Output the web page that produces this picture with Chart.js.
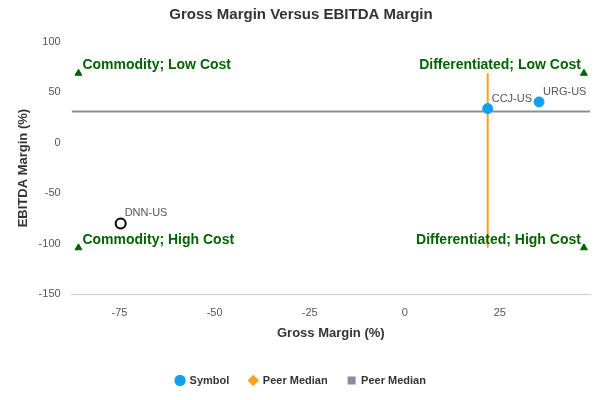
<!DOCTYPE html><html><head><script src="https://cdn.jsdelivr.net/npm/chart.js@4"></script>
<style>body{margin:0}#w{width:600px;height:400px}</style></head><body><div id="w"><canvas id="c"></canvas></div>
<script>
const symbols=["CCJ-US","URG-US"];
const grossMargin=[21.8,35.3];
const ebitdaMargin=[34,40.6];
const subject=["DNN-US"];
const subjectGross=[-74.7];
const subjectEbitda=[-80];
const peerMedianGross=21.8;
const peerMedianEbitda=31;
const quadLabels=["Commodity; Low Cost","Differentiated; Low Cost","Commodity; High Cost","Differentiated; High Cost"];
const quadX=[-85.8,47.1,-85.8,47.1];
const quadY=[69,69,-104,-104];
const xTicks=[-75,-50,-25,0,25];
const yTicks=[-150,-100,-50,0,50,100];
const xMin=-87.6,xMax=48.7;
const F="'Liberation Sans',Arial,sans-serif";
Chart.defaults.font.family=F;
const labelPlugin={id:'lbl',afterDatasetsDraw(ch){
 const c=ch.ctx,xs=ch.scales.x,ys=ch.scales.y;
 c.save();c.font="bold 14px "+F;c.fillStyle="#006400";c.textBaseline="bottom";
 quadLabels.forEach((t,i)=>{const px=xs.getPixelForValue(quadX[i]),py=ys.getPixelForValue(quadY[i]);
  if(i%2==0){c.textAlign="left";c.fillText(t,px+4,py-1);}else{c.textAlign="right";c.fillText(t,px-3,py-1);}});
 c.font="11px "+F;c.fillStyle="#555";c.textAlign="left";
 symbols.forEach((s,i)=>c.fillText(s,xs.getPixelForValue(grossMargin[i])+4,ys.getPixelForValue(ebitdaMargin[i])-4));
 subject.forEach((s,i)=>c.fillText(s,xs.getPixelForValue(subjectGross[i])+4,ys.getPixelForValue(subjectEbitda[i])-5));
 c.restore();}};
new Chart(document.getElementById('c'),{type:'scatter',
 data:{datasets:[
 {label:'Symbol',data:symbols.map((s,i)=>({x:grossMargin[i],y:ebitdaMargin[i]})),backgroundColor:'#0fa0ef',borderColor:'#0fa0ef',pointRadius:5,order:0},
 {label:'Peer Median',type:'line',data:[{x:peerMedianGross,y:69},{x:peerMedianGross,y:-104}],borderColor:'#f7a21b',backgroundColor:'#f7a21b',borderWidth:2,pointRadius:0,pointStyle:'rectRot',order:2},
 {label:'Peer Median',type:'line',data:[{x:xMin,y:peerMedianEbitda},{x:xMax,y:peerMedianEbitda}],borderColor:'#8c8c9a',backgroundColor:'#8c8c9a',borderWidth:2,pointRadius:0,pointStyle:'rect',order:3},
 {label:'subject',data:subject.map((s,i)=>({x:subjectGross[i],y:subjectEbitda[i]})),backgroundColor:'#fff',borderColor:'#000',borderWidth:2,pointRadius:5,order:0},
 {label:'quad',data:quadX.map((x,i)=>({x,y:quadY[i]})),pointStyle:'triangle',backgroundColor:'#006400',borderColor:'#006400',pointRadius:4,order:1}
 ]},
 options:{animation:false,responsive:true,maintainAspectRatio:false,
 layout:{padding:{left:12,right:10,top:0,bottom:4}},
 plugins:{title:{display:true,text:'Gross Margin Versus EBITDA Margin',font:{size:15,weight:'bold'},color:'#333',padding:{top:6,bottom:18}},
  tooltip:{enabled:false},
  legend:{position:'bottom',labels:{usePointStyle:true,boxWidth:8,boxHeight:8,font:{size:11,weight:'bold'},color:'#333',padding:20,
   generateLabels(ch){return ch.data.datasets.slice(0,3).map((d,i)=>({text:d.label,fillStyle:d.backgroundColor,strokeStyle:d.backgroundColor,lineWidth:0,pointStyle:['circle','rectRot','rect'][i],datasetIndex:i,fontColor:'#333'}));}}}},
 scales:{x:{type:'linear',min:xMin,max:xMax,afterBuildTicks:a=>{a.ticks=xTicks.map(v=>({value:v}))},grid:{display:false},border:{color:'#c0d0e0'},
   ticks:{color:'#555',font:{size:11},padding:4},title:{display:true,text:'Gross Margin (%)',font:{size:13,weight:'bold'},color:'#333',padding:{top:2,bottom:14}}},
  y:{min:-150,max:100,afterBuildTicks:a=>{a.ticks=yTicks.map(v=>({value:v}))},grid:{display:false},border:{display:false},
   ticks:{color:'#555',font:{size:11}},title:{display:true,text:'EBITDA Margin (%)',font:{size:13,weight:'bold'},color:'#333'}}}},
 plugins:[labelPlugin]});
</script></body></html>
